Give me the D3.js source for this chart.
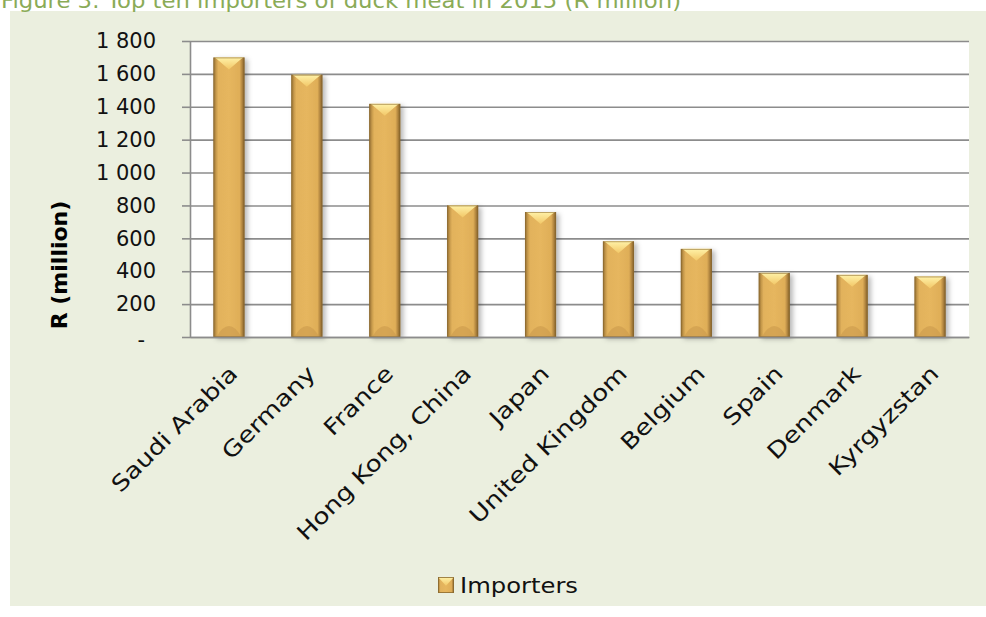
<!DOCTYPE html>
<html>
<head>
<meta charset="utf-8">
<script src="https://cdn.jsdelivr.net/npm/d3@7"></script>
<style>
  html, body { margin: 0; padding: 0; background: #ffffff; }
  svg { display: block; }
  text { font-family: "DejaVu Sans", "Liberation Sans", sans-serif; }
</style>
</head>
<body>
<svg id="chart" width="986" height="617"></svg>
<script>
// Top ten importers of duck meat, 2015 (R million)
const countries = ["Saudi Arabia", "Germany", "France", "Hong Kong, China", "Japan",
                   "United Kingdom", "Belgium", "Spain", "Denmark", "Kyrgyzstan"];
const importValues = [1700, 1595, 1418, 800, 760, 582, 536, 390, 378, 368];
const yTicks = [0, 200, 400, 600, 800, 1000, 1200, 1400, 1600, 1800];
const seriesName = "Importers";
const titleText = "Figure 3: Top ten importers of duck meat in 2015 (R million)";
const yTitle = "R (million)";

const svg = d3.select("#chart");
const W = 986, H = 617;

const plot = { left: 190, right: 969, top: 41, bottom: 337 };

const defs = svg.append("defs");

// gold bar body: darker bevelled sides, warm centre
const body = defs.append("linearGradient").attr("id", "barBody")
  .attr("x1", "0%").attr("x2", "100%").attr("y1", "0%").attr("y2", "0%");
[[0, "#8f6a2e"], [0.09, "#c79a4c"], [0.16, "#e2b25c"], [0.5, "#e6b65e"],
 [0.84, "#dfae58"], [0.91, "#b88b43"], [1, "#7d5b26"]]
  .forEach(([o, c]) => body.append("stop").attr("offset", o).attr("stop-color", c));

const topBevel = defs.append("linearGradient").attr("id", "barTop")
  .attr("x1", "0%").attr("x2", "0%").attr("y1", "0%").attr("y2", "100%");
[[0, "#fff2a8"], [1, "#f2c767"]]
  .forEach(([o, c]) => topBevel.append("stop").attr("offset", o).attr("stop-color", c));

const shadow = defs.append("filter").attr("id", "barShadow")
  .attr("x", "-30%").attr("y", "-10%").attr("width", "180%").attr("height", "130%");
shadow.append("feDropShadow").attr("dx", 3).attr("dy", 2).attr("stdDeviation", 2.5)
  .attr("flood-color", "#000").attr("flood-opacity", 0.28);

// background panel
svg.append("rect").attr("x", 10).attr("y", 11).attr("width", W - 10).attr("height", 595)
  .attr("fill", "#ebefdf");

// title (runs off the top edge of the page)
svg.append("text").attr("x", 1).attr("y", 7.5)
  .attr("font-size", 22).attr("fill", "#8aab57")
  .attr("textLength", 680).attr("lengthAdjust", "spacingAndGlyphs")
  .text(titleText);

// plot area
svg.append("rect").attr("x", plot.left).attr("y", plot.top)
  .attr("width", plot.right - plot.left).attr("height", plot.bottom - plot.top)
  .attr("fill", "#ffffff");

const x = d3.scaleBand().domain(countries).range([plot.left, plot.right])
  .paddingInner(0.6).paddingOuter(0.3);
const y = d3.scaleLinear().domain([0, 1800]).range([plot.bottom, plot.top]);

// horizontal gridlines
const grid = svg.append("g").attr("transform", `translate(${plot.left},0)`)
  .call(d3.axisLeft(y).tickValues(yTicks).tickSize(-(plot.right - plot.left)).tickFormat(""));
grid.select(".domain").remove();
grid.selectAll("line").attr("stroke", "#8c8c8c").attr("stroke-width", 1.6);

// y axis with ticks and labels
const fmt = v => v === 0 ? "-" : d3.format(",")(v).replace(/,/g, " ");
const yAxis = svg.append("g").attr("transform", `translate(${plot.left},0)`)
  .call(d3.axisLeft(y).tickValues(yTicks).tickSize(8).tickSizeOuter(0)
    .tickPadding(26).tickFormat(fmt));
yAxis.select(".domain").attr("stroke", "#8c8c8c").attr("stroke-width", 1.6);
yAxis.selectAll("line").attr("stroke", "#8c8c8c").attr("stroke-width", 1.6);
yAxis.selectAll("text").attr("font-size", 21).attr("fill", "#111")
  .attr("font-family", "DejaVu Sans");
yAxis.selectAll(".tick").filter(d => d === 0).select("text")
  .attr("x", -45).attr("dy", "0.45em");

// bars
const barG = svg.append("g");
const bars = barG.selectAll("g.bar").data(countries.map((c, i) => ({ c, v: importValues[i] })))
  .join("g").attr("class", "bar").attr("filter", "url(#barShadow)");

bars.each(function (d) {
  const g = d3.select(this);
  const bx = x(d.c), bw = x.bandwidth();
  const by = y(d.v), bh = y(0) - y(d.v);
  const cx = bx + bw / 2;
  const bev = Math.min(12, bh / 3);
  g.append("rect").attr("x", bx).attr("y", by).attr("width", bw).attr("height", bh)
    .attr("fill", "url(#barBody)");
  // lit top facet
  g.append("path")
    .attr("d", `M${bx + 1},${by} L${bx + bw - 1},${by} L${bx + bw - 4},${by + 2} L${cx},${by + bev} L${bx + 4},${by + 2} Z`)
    .attr("fill", "url(#barTop)");
  // shaded bottom facet
  g.append("path")
    .attr("d", `M${bx + 3},${y(0)} Q${cx},${y(0) - 22} ${bx + bw - 3},${y(0)} Z`)
    .attr("fill", "#c9974a").attr("opacity", 0.55);
  g.append("rect").attr("x", bx + 0.5).attr("y", by + 0.5).attr("width", bw - 1).attr("height", bh - 1)
    .attr("fill", "none").attr("stroke", "#8a6a30").attr("stroke-width", 0.8).attr("opacity", 0.7);
});

// category labels, slanted and set wide
const xAxis = svg.append("g").attr("transform", `translate(0,${plot.bottom})`)
  .call(d3.axisBottom(x).tickSize(0).tickSizeOuter(0));
xAxis.select(".domain").attr("stroke", "#8c8c8c").attr("stroke-width", 1.6);
xAxis.selectAll("text")
  .attr("x", 0).attr("y", 0).attr("dy", 0)
  .attr("text-anchor", "end")
  .attr("transform", "translate(10,38) rotate(-45)")
  .attr("font-size", 22).attr("fill", "#111")
  .each(function () {
    const len = this.getComputedTextLength();
    d3.select(this).attr("textLength", len * 1.2).attr("lengthAdjust", "spacingAndGlyphs");
  });

// y axis title
svg.append("text")
  .attr("transform", "translate(67,265) rotate(-90)")
  .attr("text-anchor", "middle")
  .attr("font-size", 22).attr("font-weight", "bold").attr("fill", "#000")
  .text(yTitle);

// legend
const lg = svg.append("g").attr("transform", "translate(438,577)");
const ls = 16;
lg.append("rect").attr("width", ls).attr("height", ls).attr("fill", "url(#barBody)");
lg.append("path").attr("d", `M0,0 L${ls},0 L${ls / 2},${ls * 0.55} Z`).attr("fill", "url(#barTop)");
lg.append("rect").attr("x", 0.5).attr("y", 0.5).attr("width", ls - 1).attr("height", ls - 1)
  .attr("fill", "none").attr("stroke", "#8a6a30").attr("stroke-width", 0.8);
lg.append("text").attr("x", 22).attr("y", ls / 2).attr("dy", "0.36em")
  .attr("font-size", 22).attr("fill", "#111")
  .attr("textLength", 118).attr("lengthAdjust", "spacingAndGlyphs")
  .text(seriesName);
</script>
</body>
</html>
